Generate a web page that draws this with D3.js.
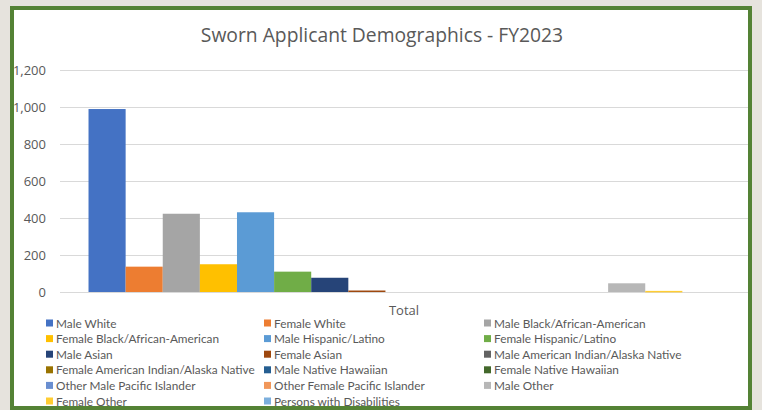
<!DOCTYPE html>
<html>
<head>
<meta charset="utf-8">
<script src="https://cdn.jsdelivr.net/npm/d3@7"></script>
<style>
  body { margin: 0; background: #e6e3dd; }
  svg { display: block; font-family: "Open Sans", "Liberation Sans", sans-serif; }
</style>
</head>
<body>
<svg width="762" height="410"></svg>
<script>
// data
const category = "Total";
const series = [
  "Male White", "Female White", "Male Black/African-American",
  "Female Black/African-American", "Male Hispanic/Latino", "Female Hispanic/Latino",
  "Male Asian", "Female Asian", "Male American Indian/Alaska Native",
  "Female American Indian/Alaska Native", "Male Native Hawaiian", "Female Native Hawaiian",
  "Other Male Pacific Islander", "Other Female Pacific Islander", "Male Other",
  "Female Other", "Persons with Disabilities"
];
const values = [989, 137, 423, 150, 431, 110, 77, 8, 0, 0, 0, 0, 0, 0, 47, 6, 0];
const colors = [
  "#4472C4", "#ED7D31", "#A5A5A5", "#FFC000", "#5B9BD5", "#70AD47",
  "#264478", "#9E480E", "#636363", "#997300", "#255E91", "#43682B",
  "#698ED0", "#F1975A", "#B7B7B7", "#FFCD33", "#7CAFDD"
];
const yTicks = [0, 200, 400, 600, 800, 1000, 1200];

const svg = d3.select("svg");

// chart frame
svg.append("rect")
  .attr("x", 12).attr("y", 8).attr("width", 738).attr("height", 400)
  .attr("fill", "#fff").attr("stroke", "#548235").attr("stroke-width", 4);

svg.append("text")
  .attr("x", 382).attr("y", 42)
  .attr("text-anchor", "middle")
  .attr("font-size", 19.3)
  .attr("fill", "#595959")
  .text("Sworn Applicant Demographics - FY2023");

const left = 60, right = 748;
const y = d3.scaleLinear().domain([0, 1200]).range([292, 70]);
const x0 = d3.scaleBand().domain([category]).range([left, right])
  .paddingInner(0).paddingOuter(0.0452);
const x1 = d3.scaleBand().domain(series).range([0, x0.bandwidth()]);
const color = d3.scaleOrdinal().domain(series).range(colors);

// gridlines + y labels
const yAxis = svg.append("g")
  .attr("transform", "translate(" + left + ",0)")
  .call(d3.axisLeft(y).tickValues(yTicks).tickSize(-(right - left))
    .tickPadding(14).tickFormat(d3.format(",")));
yAxis.select(".domain").remove();
yAxis.selectAll("line").attr("stroke", "#d9d9d9");
yAxis.selectAll("text").attr("fill", "#595959").attr("font-size", 13)
  .attr("font-family", "Open Sans, sans-serif");

svg.append("g")
  .selectAll("rect")
  .data(series)
  .enter()
  .append("rect")
    .attr("x", d => x0(category) + x1(d))
    .attr("y", (d, i) => y(values[i]))
    .attr("width", x1.bandwidth())
    .attr("height", (d, i) => Math.max(y(0) - y(values[i]), values[i] > 0 ? 1.5 : 0))
    .attr("fill", d => color(d));

// category label
svg.append("text")
  .attr("x", x0(category) + x0.bandwidth() / 2).attr("y", 315)
  .attr("text-anchor", "middle")
  .attr("font-size", 13).attr("fill", "#595959")
  .text(category);

// legend, 3 columns
const colX = [46, 264, 484];
const legend = svg.append("g")
  .selectAll("g")
  .data(series)
  .enter()
  .append("g")
    .attr("transform", (d, i) => "translate(" + colX[i % 3] + "," + (323 + Math.floor(i / 3) * 15.6) + ")");
legend.append("rect")
  .attr("x", 0).attr("y", -3.5).attr("width", 7).attr("height", 7)
  .attr("fill", d => color(d));
legend.append("text")
  .attr("x", 10).attr("y", 4.5)
  .attr("font-size", 11.8).attr("fill", "#595959")
  .attr("font-family", "Lato, sans-serif")
  .text(d => d);
</script>
</body>
</html>
